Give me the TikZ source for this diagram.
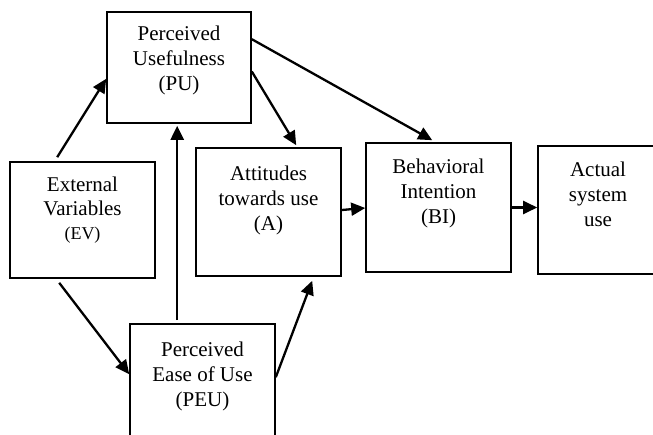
\documentclass[tikz,border=0pt]{standalone}
\usepackage{fontspec}
\setmainfont{Liberation Serif}
\usetikzlibrary{arrows.meta,calc,positioning}

\tikzset{
	box/.style={draw, line width=1.6pt, inner sep=0pt, minimum width=145pt},
	lbl/.style={align=center, inner sep=0pt, font=\fontsize{21}{25}\selectfont},
	arr/.style={line width=2.3pt, -{Triangle[length=14pt,width=13pt]}}
}

\begin{document}
\begin{tikzpicture}[x=1pt, y=-1pt]
		%%%%% START %%%%%
		\clip (0, 0) rectangle (653, 435);
		
		\node[box, minimum width=144pt, minimum height=111pt] (pu) at (179, 67.5) {};
		\node[lbl, below=15pt of pu.north] (putext) {Perceived\\Usefulness\\(PU)};
		
		\node[box, minimum height=116pt] (ev) at (82.5, 220) {};
		\node[lbl, below=16pt of ev.north, font=\fontsize{21}{24}\selectfont] (evtext) {External\\Variables\\{\fontsize{18}{24}\selectfont (EV)}};
		
		\node[box, minimum height=128pt] (att) at (268.5, 212) {};
		\node[lbl, below=19pt of att.north] (atttext) {Attitudes\\towards use\\(A)};
		
		\node[box, minimum height=129pt] (bi) at (438.5, 207.5) {};
		\node[lbl, below=17pt of bi.north] (bitext) {Behavioral\\Intention\\(BI)};
		
		\node[box, minimum width=120pt, minimum height=128pt] (use) at (598, 210) {};
		\node[lbl, below=17pt of use.north] (usetext) {Actual\\system\\use};
		
		\node[box, minimum height=125pt] (peu) at (202.5, 386.5) {};
		\node[lbl, below=19pt of peu.north] (peutext) {Perceived\\Ease of Use\\(PEU)};
		
		\draw[arr] ($(ev.north west)+(48, -4)$) -- ($(pu.south west)+(0, -45)$);
		\draw[arr] ($(ev.south west)+(50, 4)$) -- ($(peu.north west)+(0, 51)$);
		\draw[arr] ($(peu.north west)+(48, -3)$) -- ($(pu.south west)+(71, 2)$);
		\draw[arr] ($(pu.east)+(0, 4)$) -- ($(att.north west)+(101, -2)$);
		\draw[arr] ($(pu.north east)+(0, 28)$) -- ($(bi.north west)+(67, -2)$);
		\draw[arr] ($(peu.north east)+(0, 54)$) -- ($(att.south west)+(117, 4)$);
		\draw[arr] ($(att.east)+(0, -2)$) -- ($(bi.west)+(0, 0.5)$);
		\draw[arr] (bi.east) -- (bi.east -| use.west);
		%%%%% END %%%%%
	\end{tikzpicture}
\end{document}
